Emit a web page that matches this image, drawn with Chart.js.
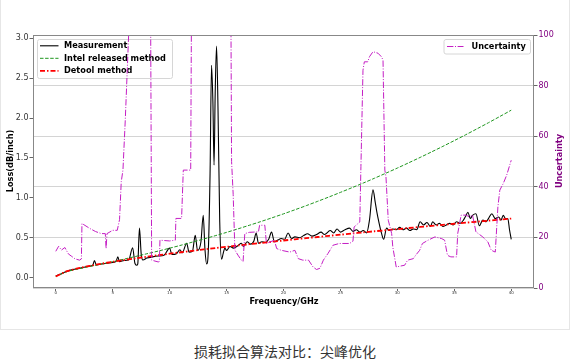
<!DOCTYPE html>
<html><head><meta charset="utf-8">
<script src="https://cdn.jsdelivr.net/npm/chart.js@4.4.0/dist/chart.umd.min.js"></script>
<style>
html,body{margin:0;padding:0;background:#fff;}
#card{position:absolute;left:0;top:0;width:568px;height:329px;border:1px solid #e6e6e6;border-top:none;}
#wrap{position:absolute;left:0;top:0;width:570px;height:330px;}
#cap{position:absolute;left:0;top:340px;width:570px;text-align:center;font:14px "Noto Sans CJK SC";color:#333;line-height:22px;}
</style></head><body>
<div id="card"></div>
<div id="wrap"><canvas id="c" width="570" height="330"></canvas></div>
<div id="cap">损耗拟合算法对比：尖峰优化</div>
<script>
// ---- data ----
const xTicks = [0,5,10,15,20,25,30,35,40];
const lossTicks = [0,0.5,1,1.5,2,2.5,3];
const uncTicks = [0,20,40,60,80,100];

const fitFreq = [0,1,2,3,4,5,6,7,8,9,10,11,12,13,14,15,16,17,18,19,20,21,22,23,24,25,26,27,28,29,30,31,32,33,34,35,36,37,38,39,40];
const detoolLoss = [0.015,0.081,0.118,0.148,0.174,0.198,0.220,0.242,0.262,0.281,0.300,0.318,0.336,0.353,0.370,0.386,0.403,0.419,0.434,0.450,0.465,0.480,0.495,0.509,0.524,0.538,0.553,0.567,0.581,0.594,0.608,0.622,0.635,0.649,0.662,0.675,0.688,0.701,0.714,0.727,0.740];
const intelLoss = [0.015,0.075,0.11,0.14,0.17,0.200,0.232,0.265,0.299,0.333,0.369,0.406,0.445,0.484,0.525,0.567,0.611,0.656,0.702,0.750,0.799,0.850,0.902,0.956,1.011,1.068,1.126,1.185,1.246,1.309,1.373,1.439,1.506,1.575,1.645,1.717,1.790,1.865,1.941,2.019,2.098];

const measurement = [
[0,0.02],[0.5,0.05],[1,0.08],[1.5,0.10],[2,0.115],[2.5,0.13],[3,0.145],[3.25,0.155],[3.4,0.215],[3.55,0.16],
[4,0.17],[4.5,0.18],[5,0.19],[5.3,0.205],[5.45,0.26],[5.6,0.20],[6,0.215],[6.4,0.22],[6.75,0.375],[6.95,0.18],
[7.1,0.155],[7.2,0.17],[7.35,0.62],[7.5,0.30],[7.65,0.22],[8,0.245],[8.5,0.26],[9,0.27],[9.5,0.28],[10,0.37],
[10.2,0.29],[10.6,0.30],[10.9,0.35],[11.1,0.31],[11.5,0.43],[11.7,0.32],[12,0.33],[12.25,0.53],[12.45,0.34],[12.75,0.45],
[12.95,0.78],[13.1,0.36],[13.25,0.17],[13.4,0.35],[13.55,1.3],[13.68,2.66],[13.8,2.2],[13.9,1.41],[14,2.3],[14.12,2.90],
[14.25,2.1],[14.4,0.7],[14.56,0.23],[14.7,0.30],[14.85,0.37],[15,0.34],[15.3,0.39],[15.6,0.37],[16,0.40],[16.3,0.43],
[16.5,0.39],[16.8,0.45],[17.1,0.42],[17.4,0.46],[17.6,0.56],[17.8,0.43],[18.1,0.45],[18.4,0.44],[18.7,0.48],[18.95,0.57],
[19.2,0.45],[19.5,0.47],[19.8,0.49],[20.1,0.48],[20.4,0.56],[20.7,0.49],[21,0.51],[21.4,0.50],[21.8,0.53],[22.1,0.55],
[22.5,0.52],[22.9,0.54],[23.3,0.57],[23.6,0.54],[24.1,0.59],[24.4,0.56],[24.7,0.61],[25,0.57],[25.4,0.60],[25.8,0.62],
[26.1,0.58],[26.4,0.60],[26.7,0.57],[27,0.59],[27.3,0.56],[27.55,0.72],[27.86,1.10],[28.05,0.95],[28.2,0.82],[28.4,0.68],
[28.6,0.56],[28.8,0.48],[29.05,0.62],[29.3,0.59],[29.6,0.61],[29.9,0.60],[30.2,0.63],[30.5,0.60],[30.8,0.62],[31.1,0.59],
[31.4,0.61],[31.7,0.60],[32,0.70],[32.3,0.66],[32.6,0.69],[32.9,0.64],[33.1,0.70],[33.4,0.66],[33.7,0.68],[34,0.64],
[34.3,0.66],[34.6,0.68],[34.9,0.66],[35.2,0.70],[35.5,0.68],[35.8,0.72],[36,0.77],[36.2,0.82],[36.4,0.74],[36.6,0.78],
[36.9,0.80],[37.2,0.65],[37.5,0.72],[37.8,0.70],[38,0.74],[38.3,0.80],[38.6,0.74],[38.9,0.76],[39.1,0.72],[39.3,0.78],
[39.5,0.74],[39.7,0.74],[39.85,0.60],[40,0.48]
];

const uncertainty = [
[0,14.5],[0.25,16.5],[0.5,15],[0.8,16],[1.1,13.5],[1.4,12.5],[1.7,11.5],[2.1,11],[2.25,11.5],[2.3,25.5],
[3.0,23.5],[3.5,22.3],[4.0,21.5],[4.35,21.5],[4.42,15.6],[4.5,21.5],[5.0,22.8],[5.4,22.8],[5.6,27],[5.75,42],
[5.9,46.6],[6.1,66],[6.4,100],[6.6,140],[8.3,140],[8.42,11],[9.0,10.3],[9.1,10.5],[9.15,18.9],[10.0,18.6],
[10.5,18.9],[10.55,27.5],[11.05,27.5],[11.2,46.6],[11.85,46.6],[11.95,140],[15.35,140],[15.44,50],[15.58,37],[15.73,15],
[16.0,13],[16.3,11],[16.45,10.5],[16.6,21.5],[17.0,22],[17.8,22.2],[17.9,24.8],[18.36,24.8],[18.5,17.6],[19.2,18.9],
[19.4,15.6],[19.8,14.9],[20.55,14.2],[21.0,14.9],[21.3,11.6],[21.7,11.0],[22.2,11],[22.6,8.3],[22.9,7.3],[23.2,7.8],
[23.5,11.0],[23.9,13.6],[24.35,16.9],[24.9,17.6],[25.8,17.6],[26.1,18.5],[26.2,24.1],[26.7,26.1],[26.8,48],[26.98,86.1],
[27.1,89.4],[27.4,89.4],[27.55,91.4],[27.86,93.4],[28.3,92.8],[28.6,91.4],[28.74,90.1],[28.9,46.6],[29.0,43.9],[29.2,26.8],
[29.5,21.5],[29.6,16.2],[29.9,8.3],[30.2,8.6],[30.64,9.0],[30.9,11],[31.4,11.6],[31.6,12.9],[31.96,14.9],[32.2,17.6],
[32.7,18.9],[33.3,20.2],[33.9,19.5],[34.15,18.9],[34.4,12.9],[34.7,12.3],[35.2,12.3],[35.3,21.5],[35.6,28.8],[36.05,28.8],
[36.3,28.1],[36.6,28.8],[36.9,22.2],[37.5,20.2],[37.95,18.2],[38.25,14.9],[38.6,14.2],[38.83,32.1],[39.0,38.7],[39.3,41.3],
[39.6,44.6],[40.0,50.5]
];

// ---- chart ----
const FONT = 'DejaVu Sans';
const toXY = arr => arr.map(p => ({x:p[0], y:p[1]}));
const zipXY = (xs, ys) => xs.map((x,i) => ({x:x, y:ys[i]}));

function roundRect(ctx, x, y, w, h, r){
  ctx.beginPath();
  ctx.moveTo(x+r,y); ctx.lineTo(x+w-r,y); ctx.arcTo(x+w,y,x+w,y+r,r);
  ctx.lineTo(x+w,y+h-r); ctx.arcTo(x+w,y+h,x+w-r,y+h,r);
  ctx.lineTo(x+r,y+h); ctx.arcTo(x,y+h,x,y+h-r,r);
  ctx.lineTo(x,y+r); ctx.arcTo(x,y,x+r,y,r); ctx.closePath();
}
function drawLegend(chart, box, idxs){
  const ctx = chart.ctx;
  ctx.save();
  roundRect(ctx, box.x, box.y, box.w, box.h, 2);
  ctx.fillStyle = 'rgba(255,255,255,0.85)'; ctx.fill();
  ctx.strokeStyle = '#d6d6d6'; ctx.lineWidth = 1; ctx.stroke();
  idxs.forEach((di, i) => {
    const ds = chart.data.datasets[di];
    const yy = box.rowY + i*box.rowH;
    ctx.beginPath();
    ctx.setLineDash(ds.borderDash || []);
    ctx.strokeStyle = ds.borderColor; ctx.lineWidth = ds.borderWidth;
    ctx.moveTo(box.lx0, yy); ctx.lineTo(box.lx1, yy); ctx.stroke();
    ctx.setLineDash([]);
    ctx.fillStyle = '#000'; ctx.font = 'bold 8.2px "'+FONT+'"';
    ctx.textBaseline = 'middle'; ctx.textAlign = 'left';
    ctx.fillText(ds.label, box.tx, yy+0.5);
  });
  ctx.restore();
}
const mplPlugin = {
  id:'mpl',
  beforeDatasetDraw(chart, args){
    if (args.index === 0) {
      drawLegend(chart, {x:37.5,y:39.5,w:135,h:39,rowY:45.8,rowH:12.5,lx0:40,lx1:58.5,tx:64}, [3,2,1]);
    }
  },
  afterDatasetsDraw(chart){
    const ctx = chart.ctx, a = chart.chartArea;
    ctx.save();
    ctx.strokeStyle = '#888'; ctx.lineWidth = 1;
    ctx.strokeRect(Math.round(a.left)+0.5, Math.round(a.top)+0.5, Math.round(a.right-a.left)-1, Math.round(a.bottom-a.top)-1);
    ctx.restore();
    drawLegend(chart, {x:444,y:39.5,w:86.5,h:14.5,rowY:46.5,rowH:12,lx0:447,lx1:463.5,tx:471.5}, [0]);
    ctx.save();
    ctx.font = 'bold 8.2px "'+FONT+'"'; ctx.textAlign='center'; ctx.textBaseline='middle';
    ctx.fillStyle = '#000';
    ctx.fillText('Frequency/GHz', 284, 301.5);
    ctx.save(); ctx.translate(11, 161); ctx.rotate(-Math.PI/2); ctx.fillText('Loss(dB/inch)', 0, 0); ctx.restore();
    ctx.fillStyle = '#800080';
    ctx.save(); ctx.translate(560, 161); ctx.rotate(-Math.PI/2); ctx.fillText('Uncertainty', 0, 0); ctx.restore();
    ctx.restore();
  }
};

new Chart(document.getElementById('c'), {
  type:'line',
  data:{ datasets:[
    {label:'Uncertainty', data:toXY(uncertainty), yAxisID:'y1', order:0,
     borderColor:'#c41ec4', borderWidth:1, borderDash:[6.4,1.6,1,1.6], pointRadius:0, tension:0, fill:false},
    {label:'Detool method', data:zipXY(fitFreq, detoolLoss), yAxisID:'y', order:1,
     borderColor:'#ff0000', borderWidth:1.8, borderDash:[5,2,1.5,2], pointRadius:0, tension:0.3, fill:false},
    {label:'Intel released method', data:zipXY(fitFreq, intelLoss), yAxisID:'y', order:2,
     borderColor:'#1f961f', borderWidth:1, borderDash:[3.5,1.6], pointRadius:0, tension:0.3, fill:false},
    {label:'Measurement', data:toXY(measurement), yAxisID:'y', order:3,
     borderColor:'#000000', borderWidth:1.1, pointRadius:0, cubicInterpolationMode:'monotone', fill:false}
  ]},
  options:{
    responsive:false, animation:false, devicePixelRatio:1,
    layout:{padding:{top:35,left:0,right:0,bottom:0}},
    plugins:{legend:{display:false}, tooltip:{enabled:false}, title:{display:false}},
    scales:{
      x:{type:'linear', position:'bottom', min:-2, max:42,
         afterBuildTicks:s=>{s.ticks = xTicks.map(v=>({value:v}));},
         afterFit:s=>{s.height = 42;},
         ticks:{font:{family:FONT,size:4}, color:'#333', padding:0, maxRotation:0, autoSkip:false},
         grid:{drawOnChartArea:false, drawTicks:true, tickLength:3, tickColor:'#666'},
         border:{display:false}},
      y:{type:'linear', position:'left', min:-0.13, max:3.04,
         afterBuildTicks:s=>{s.ticks = lossTicks.map(v=>({value:v}));},
         afterFit:s=>{s.width = 33;},
         ticks:{font:{family:FONT,size:8}, color:'#333', padding:1, callback:v=>v.toFixed(1)},
         grid:{drawOnChartArea:false, drawTicks:true, tickLength:3.5, tickColor:'#666'},
         border:{display:false}},
      y1:{type:'linear', position:'right', min:0, max:100,
         afterBuildTicks:s=>{s.ticks = uncTicks.map(v=>({value:v}));},
         afterFit:s=>{s.width = 36;},
         ticks:{font:{family:FONT,size:8}, color:'#800080', padding:1},
         grid:{drawOnChartArea:true, color:'#d4d4d4', lineWidth:1, drawTicks:true, tickLength:3.5, tickColor:'#666'},
         border:{display:false}}
    }
  },
  plugins:[mplPlugin]
});
</script>
</body></html>
